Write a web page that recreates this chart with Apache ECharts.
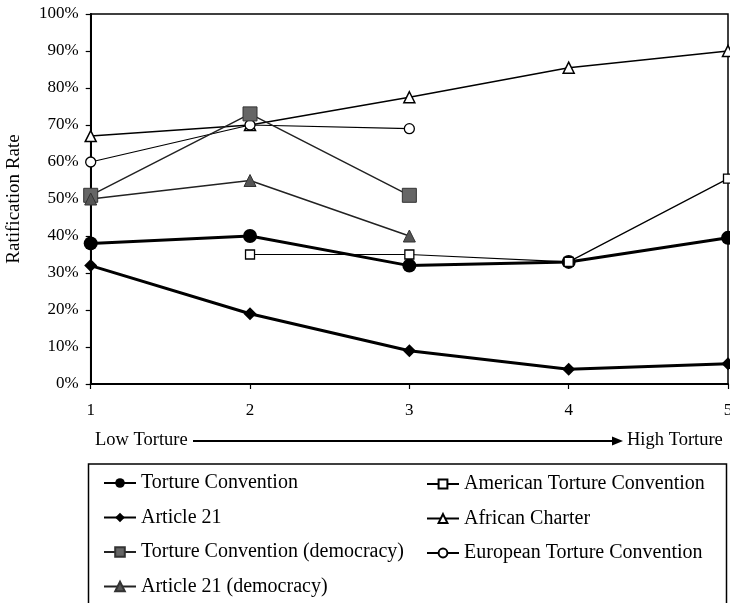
<!DOCTYPE html>
<html>
<head>
<meta charset="utf-8">
<script src="https://cdn.jsdelivr.net/npm/echarts@6/dist/echarts.min.js"></script>
<style>
html,body{margin:0;padding:0;background:#fff;}
#chart{width:730px;height:603px;}
</style>
</head>
<body>
<div id="chart"></div>
<script>
var categories = ['1', '2', '3', '4', '5'];
var yTicks = [0, 10, 20, 30, 40, 50, 60, 70, 80, 90, 100];

var tortureConvention = [38, 40, 32, 33, 39.5];
var article21 = [32, 19, 9, 4, 5.5];
var tortureConventionDem = [51, 73, 51, null, null];
var article21Dem = [50, 55, 40, null, null];
var americanTortureConvention = [null, 35, 35, 33, 55.5];
var africanCharter = [67, 70, 77.5, 85.5, 90];
var europeanTortureConvention = [60, 70, 69, null, null];

var FONT = 'Liberation Serif';

var chart = echarts.init(document.getElementById('chart'), null, {renderer: 'canvas'});

var option = {
  animation: false,
  backgroundColor: '#fff',
  grid: {
    left: 90.7, right: 2, top: 14, bottom: 219,
    outerBoundsMode: 'none',
    containLabel: false,
    show: true, borderColor: '#000', borderWidth: 1.5, backgroundColor: 'transparent'
  },
  xAxis: {
    type: 'category',
    data: categories,
    boundaryGap: false,
    axisLine: {lineStyle: {color: '#000', width: 2}},
    axisTick: {show: true, inside: false, length: 5, lineStyle: {color: '#000', width: 1.2}},
    axisLabel: {color: '#000', fontFamily: FONT, fontSize: 17, margin: 18},
    splitLine: {show: false}
  },
  yAxis: {
    type: 'value',
    min: yTicks[0], max: yTicks[yTicks.length - 1], interval: 10,
    name: 'Ratification Rate',
    nameLocation: 'middle',
    nameGap: 67,
    nameTextStyle: {color: '#000', fontFamily: FONT, fontSize: 19},
    axisLine: {show: true, lineStyle: {color: '#000', width: 2}},
    axisTick: {show: true, inside: false, length: 5, lineStyle: {color: '#000', width: 1.2}},
    axisLabel: {color: '#000', fontFamily: FONT, fontSize: 17, margin: 12, formatter: '{value}%'},
    splitLine: {show: false}
  },
  legend: [
    {
      orient: 'vertical', left: 103, top: 473, itemGap: 14.5, padding: 0,
      height: 200,
      itemWidth: 32, itemHeight: 12,
      data: ['Torture Convention', 'Article 21', 'Torture Convention (democracy)', 'Article 21 (democracy)'],
      textStyle: {color: '#000', fontFamily: FONT, fontSize: 20, lineHeight: 20},
      selectedMode: false
    },
    {
      orient: 'vertical', left: 426, top: 474, itemGap: 14.5, padding: 0,
      height: 200,
      itemWidth: 32, itemHeight: 11,
      data: ['American Torture Convention', 'African Charter', 'European Torture Convention'],
      textStyle: {color: '#000', fontFamily: FONT, fontSize: 20, lineHeight: 20},
      selectedMode: false
    }
  ],
  graphic: [
    {type: 'rect', shape: {x: 88.5, y: 464, width: 638, height: 180},
     style: {fill: 'none', stroke: '#000', lineWidth: 1.5}, z: 10},
    {type: 'text', left: 95, top: 431,
     style: {text: 'Low Torture', fill: '#000', font: '18.5px "Liberation Serif"'}, z: 10},
    {type: 'line', shape: {x1: 193, y1: 441, x2: 614, y2: 441},
     style: {stroke: '#000', lineWidth: 2}, z: 10},
    {type: 'polygon', shape: {points: [[612, 436.5], [623, 441], [612, 445.5]]},
     style: {fill: '#000'}, z: 10},
    {type: 'text', left: 627, top: 431,
     style: {text: 'High Torture', fill: '#000', font: '18.5px "Liberation Serif"'}, z: 10}
  ],
  series: [
    {
      name: 'African Charter', type: 'line', data: africanCharter,
      symbol: 'triangle', symbolSize: 11,
      lineStyle: {color: '#000', width: 1.5},
      itemStyle: {color: '#fff', borderColor: '#000', borderWidth: 1.5}
    },
    {
      name: 'European Torture Convention', type: 'line', data: europeanTortureConvention,
      symbol: 'circle', symbolSize: 10,
      lineStyle: {color: '#000', width: 1.2},
      itemStyle: {color: '#fff', borderColor: '#000', borderWidth: 1.3}
    },
    {
      name: 'Torture Convention (democracy)', type: 'line', data: tortureConventionDem,
      symbol: 'rect', symbolSize: 14,
      lineStyle: {color: '#222', width: 1.5},
      itemStyle: {color: '#666', borderColor: '#333', borderWidth: 1}
    },
    {
      name: 'Article 21 (democracy)', type: 'line', data: article21Dem,
      symbol: 'triangle', symbolSize: 12,
      lineStyle: {color: '#222', width: 1.5},
      itemStyle: {color: '#555', borderColor: '#333', borderWidth: 1}
    },
    {
      name: 'Article 21', type: 'line', data: article21,
      symbol: 'diamond', symbolSize: 13,
      lineStyle: {color: '#000', width: 3},
      itemStyle: {color: '#000', borderColor: '#000', borderWidth: 0}
    },
    {
      name: 'Torture Convention', type: 'line', data: tortureConvention,
      symbol: 'circle', symbolSize: 14,
      lineStyle: {color: '#000', width: 3},
      itemStyle: {color: '#000', borderColor: '#000', borderWidth: 0}
    },
    {
      name: 'American Torture Convention', type: 'line', data: americanTortureConvention,
      symbol: 'rect', symbolSize: 9,
      lineStyle: {color: '#000', width: 1.2},
      itemStyle: {color: '#fff', borderColor: '#000', borderWidth: 1.3}
    }
  ]
};
chart.setOption(option);
</script>
</body>
</html>
